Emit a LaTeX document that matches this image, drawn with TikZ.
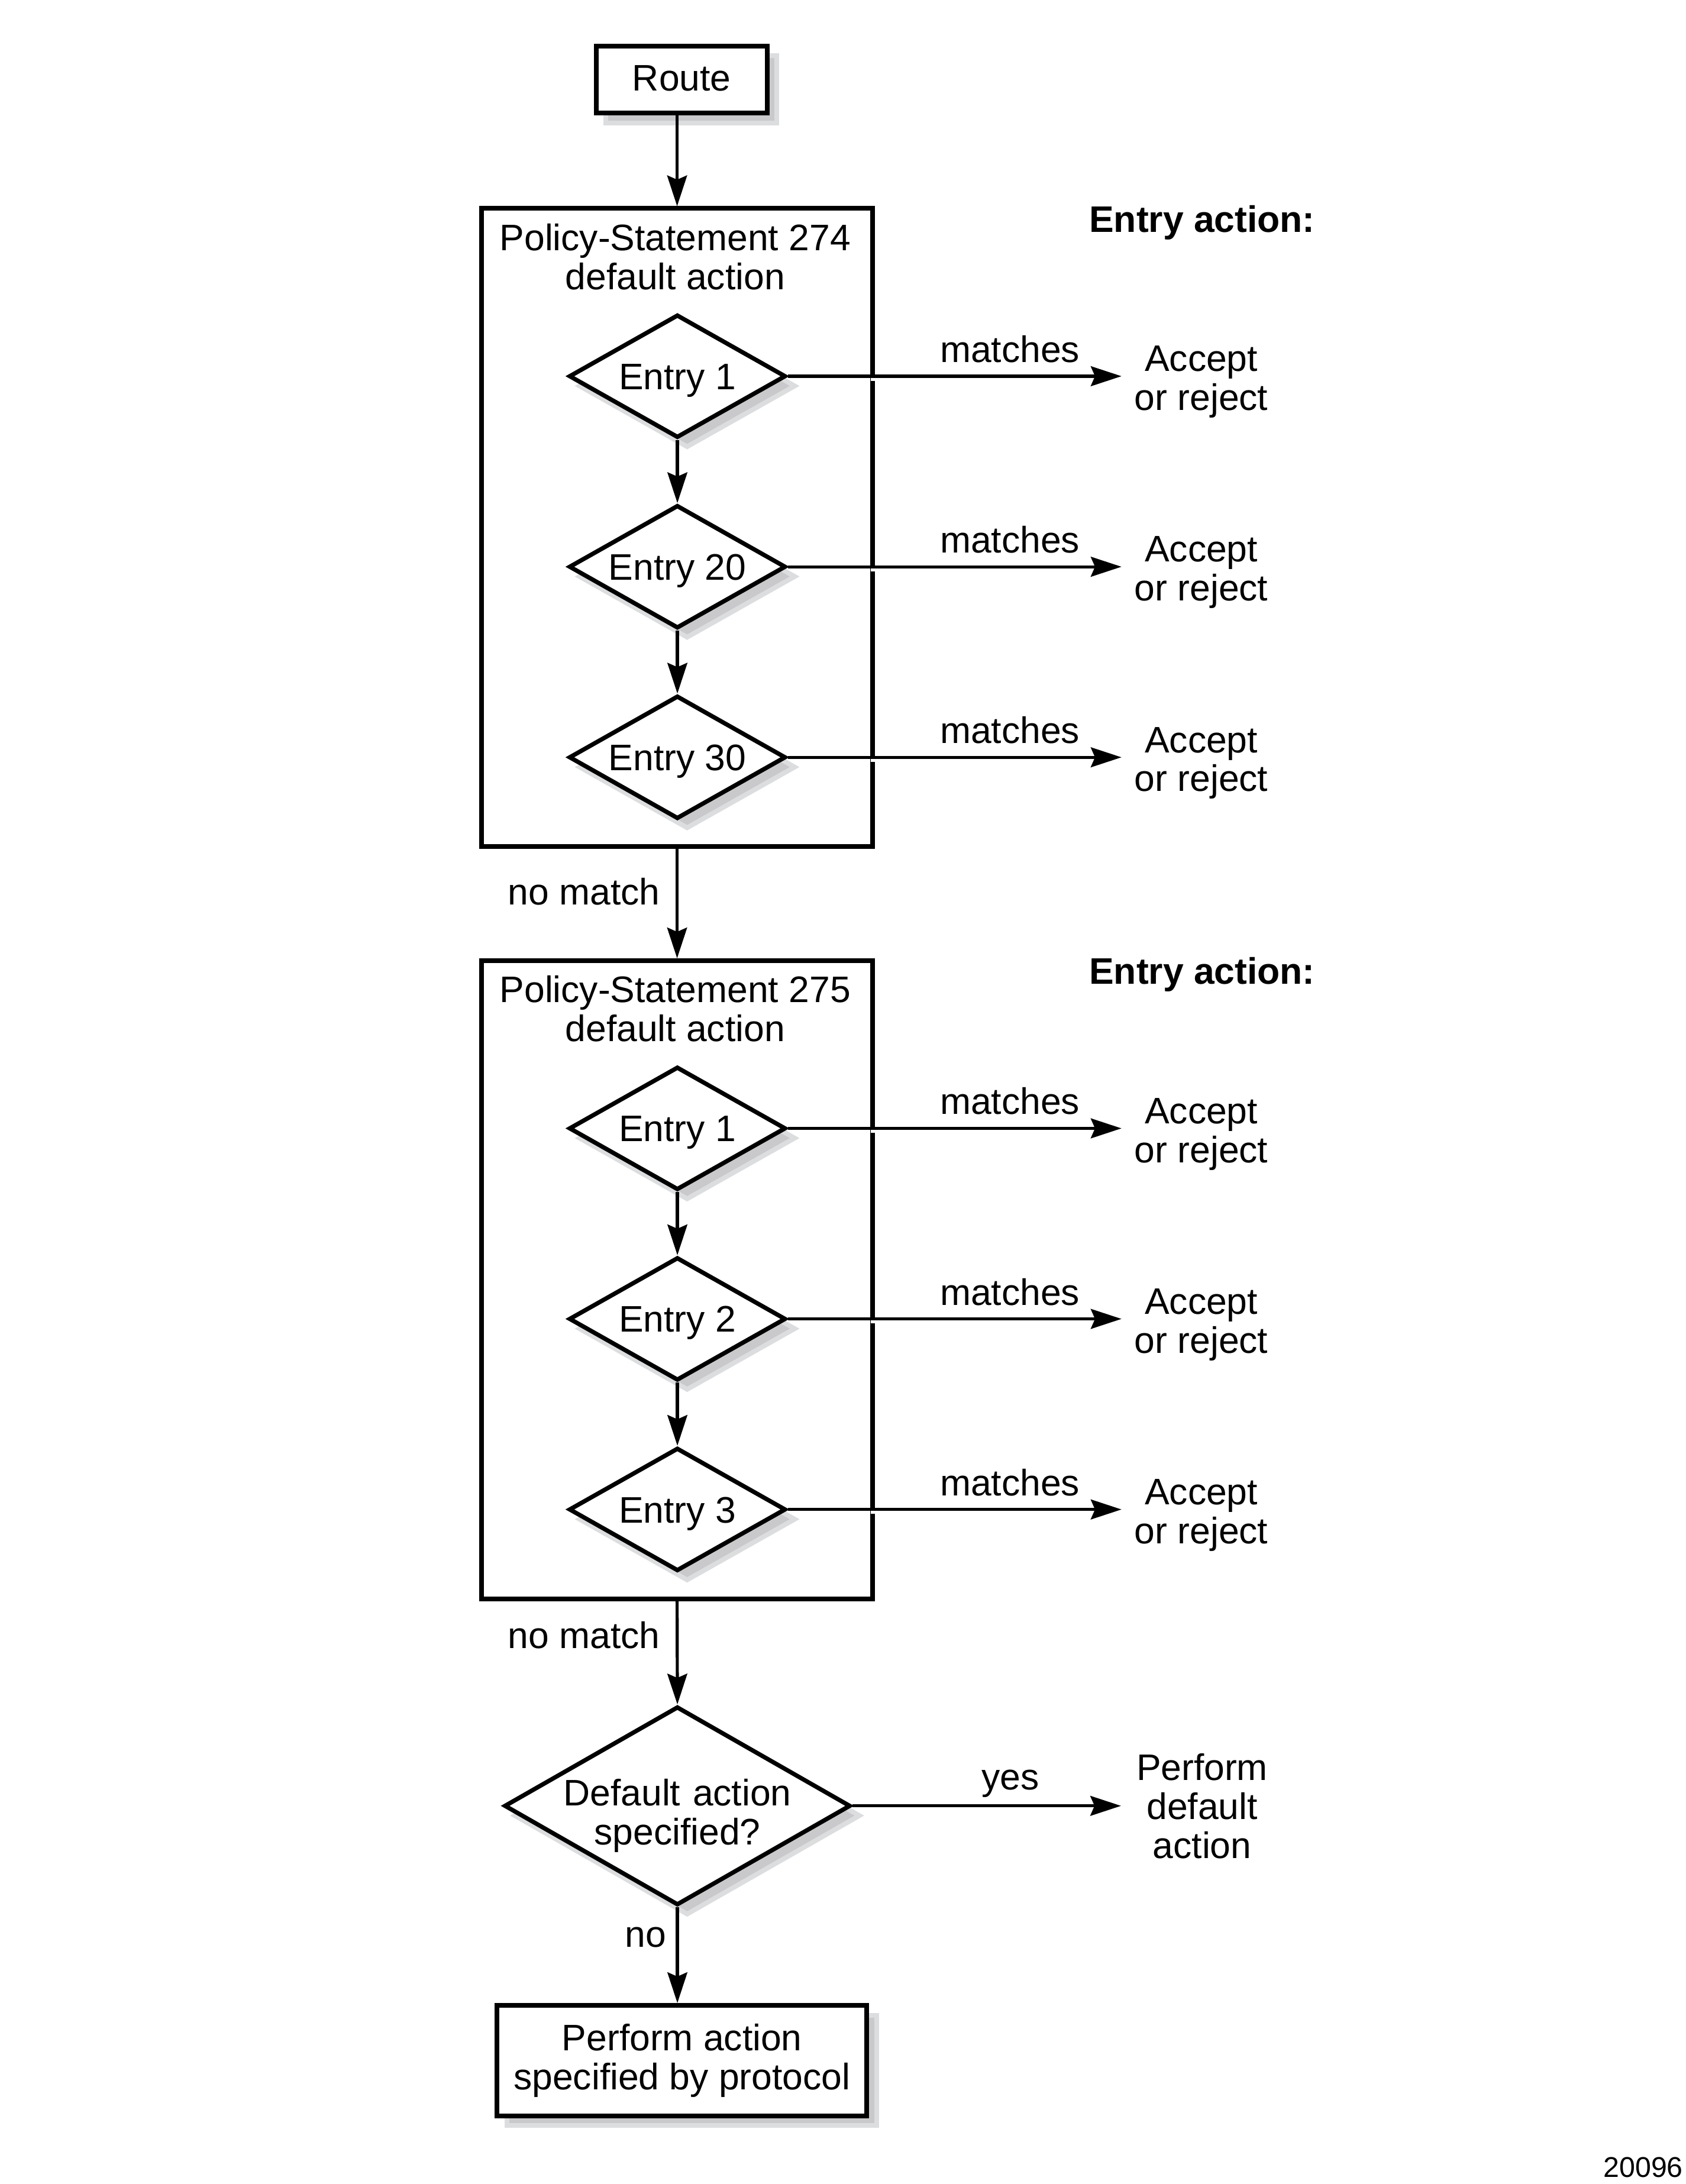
\documentclass[tikz,border=0pt]{standalone}
\usepackage{fontspec}
\setmainfont{Liberation Sans}
\usetikzlibrary{arrows.meta,calc,positioning,shapes.geometric,shadows}
\definecolor{shdark}{RGB}{201,201,204}
\definecolor{shlight}{RGB}{220,221,223}

\begin{document}
\begin{tikzpicture}[x=1pt,y=-1pt,->,>={Stealth[length=22pt,width=14.2pt,inset=3pt]},line width=2.2pt,
	font=\fontsize{26.5}{28}\selectfont]
	\tikzstyle{shade}=[general shadow={shadow xshift=7pt,shadow yshift=-7pt,fill=shdark,draw=shlight,line width=3.4pt}]
	\tikzstyle{box}=[draw,rectangle,fill=white,line width=3.4pt,shade,align=center]
	\tikzstyle{policy}=[draw,rectangle,line width=3.4pt,minimum width=280.6pt,minimum height=458.1pt]
	\tikzstyle{entry}=[draw,diamond,fill=white,line width=3.1pt,shade,inner sep=0pt,aspect=1.76,
		minimum width=155.7pt,minimum height=88.4pt,text height=19pt,text depth=0pt]
	\tikzstyle{decision}=[entry,aspect=1.74,minimum width=248.6pt,minimum height=142.6pt,
		text width=170pt,align=center,text height=19.3pt,text depth=19.3pt]
	\tikzstyle{lbl}=[inner sep=0pt,align=center]
	\tikzstyle{head}=[lbl,font=\fontsize{26.5}{28}\selectfont\bfseries]
	
	\useasboundingbox (0,0) rectangle (1210.1,1568);
	
	\node[box,minimum width=122.8pt,minimum height=48.1pt,text height=19pt,text depth=3pt] (route) at (489.35,57.1) {Route};
	
	% the two policy statements
	\foreach \s/\num/\ea/\eb/\ec in {0/274/1/20/30,540/275/1/2/3}{
		\node[policy] (pol\num) at (486.1,378.75+\s) {};
		\node[lbl,anchor=north] at (484.7,159.5+\s) {Policy-Statement \num\\default action};
		\node[head,anchor=base] at (863,166.6+\s) {Entry action:};
		\foreach \e [count=\i] in {\ea,\eb,\ec}{
			\node[entry] (e\num\i) at (486.3,133.3+136.8*\i+\s) {Entry \e};
			\node[lbl,anchor=north] (acc\num\i) at (862.4,110.5+136.8*\i+\s) {Accept\\or reject};
			\draw[->,shorten >=8.3pt] (e\num\i.east) -- node[lbl,anchor=base,pos=0.643,yshift=10pt] {matches} (e\num\i.east -| acc\num\i.west);
			\fill[white] ($(pol\num.east |- e\num\i.east)+(-3,1.1)$) rectangle +(6,2.1);
		}
		\draw[->] (e\num1.south) -- (e\num2.north);
		\draw[->] (e\num2.south) -- (e\num3.north);
	}
	
	\node[decision] (dflt) at (486.3,1296.5) {Default action\\specified?};
	\node[lbl,anchor=north] (perf) at (863,1257.7) {Perform\\default\\action};
	\node[box,minimum width=265.5pt,minimum height=79.3pt] (proto) at (489.6,1479.4) {Perform action\\specified by protocol};
	\node[lbl,font=\fontsize{20.5}{24}\selectfont,anchor=base east] (fig) at (1209.3,1563) {20096};
	
	\draw[->] (route.south -| pol274.north) -- (pol274.north);
	\draw[->] (pol274.south) -- node[lbl,anchor=base east,pos=0.51,xshift=-11.3pt] {no match} (pol275.north);
	\draw[->] (pol275.south) -- node[lbl,anchor=base east,pos=0.46,xshift=-11.3pt] {no match} (dflt.north);
	\draw[->,shorten >=10pt] (dflt.east) -- node[lbl,anchor=base,pos=0.559,yshift=11.4pt] {yes} (dflt.east -| perf.west);
	\draw[->] (dflt.south) -- node[lbl,anchor=base,pos=0.417,xshift=-22.7pt] {no} (dflt.south |- proto.north);
\end{tikzpicture}
\end{document}
